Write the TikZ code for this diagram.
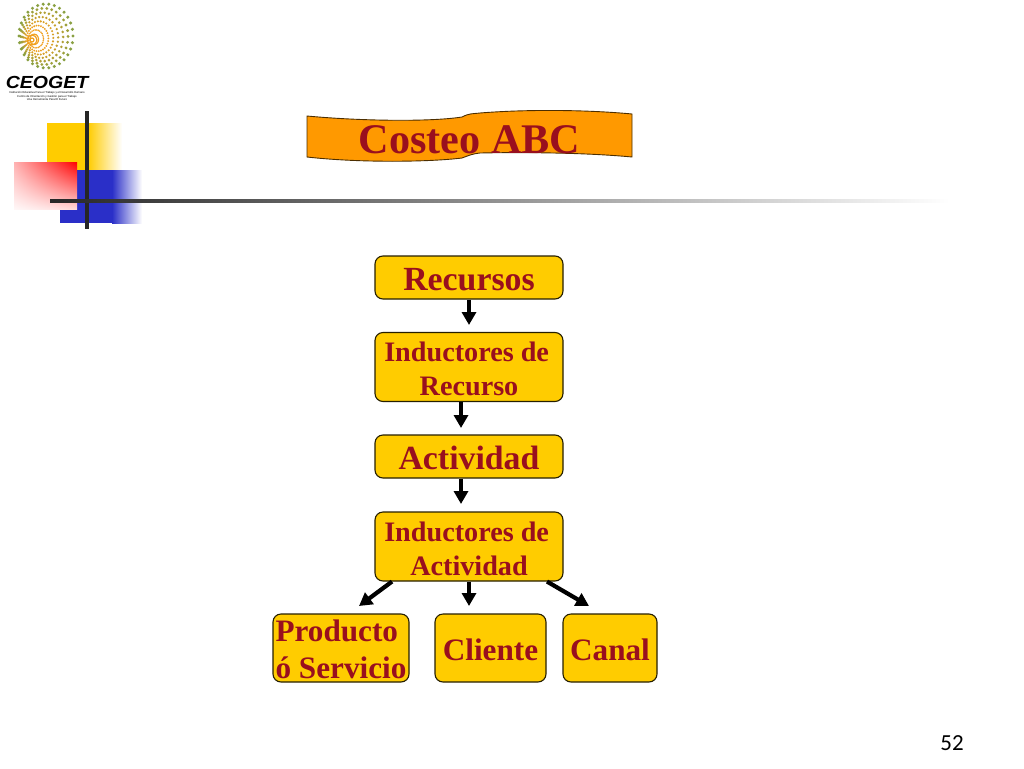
\documentclass[tikz,border=0pt]{standalone}
\usepackage{fontspec}
\setmainfont{Liberation Serif}
\newfontfamily\numfont{Carlito}
\newfontfamily\logofont{Liberation Sans}
\usetikzlibrary{arrows.meta,positioning,calc,shapes,shadings}
\definecolor{boxyellow}{HTML}{FFCC00}
\definecolor{boxorange}{HTML}{FF9900}
\definecolor{wine}{HTML}{990F1E}
\definecolor{deepblue}{HTML}{2A2FC8}
\definecolor{logogreen}{HTML}{6FA04A}
\definecolor{logoorange}{HTML}{F0A020}
\tikzset{
  flowbox/.style={rectangle, rounded corners=8pt, draw=black!85!boxyellow, line width=1.1pt, fill=boxyellow, text=wine, align=center, inner sep=0pt},
  bigtext/.style={font=\bfseries\fontsize{33.8}{37}\selectfont, execute at begin node={\rule{0pt}{27pt}}},
  lowtext/.style={font=\bfseries\fontsize{31.2}{37}\selectfont, execute at begin node={\rule{0pt}{25pt}}},
  lowpair/.style={font=\bfseries\fontsize{31.2}{37}\selectfont, execute at begin node={\rule{0pt}{62pt}}},
  smalltext/.style={font=\bfseries\fontsize{28.2}{34}\selectfont, execute at begin node={\rule{0pt}{57.5pt}}},
  flowarrow/.style={-{Triangle[length=13pt,width=14pt]}, line width=4.2pt, black},
}
\begin{document}
\begin{tikzpicture}[x=1pt,y=-1pt]
  \useasboundingbox (0,0) rectangle (1024,768);

  % Logo dots
  \foreach \a in {0,12,...,348}{
    \foreach \t in {16,28,...,100}{
      \pgfmathsetmacro{\dotx}{32+\t/100*(46+27*cos(\a)-32)}
      \pgfmathsetmacro{\doty}{40+\t/100*(36+32*sin(\a)-40)}
      \pgfmathsetmacro{\mixval}{min(100,150-1.3*\t)}
      \fill[logoorange!\mixval!logogreen] (\dotx,\doty) circle ({0.6+\t/100*1.1});
    }
  }
  \foreach \r in {2,5}{
    \draw[logoorange, line width=1.2pt] (32,40) circle (\r);
  }
  \node[font=\logofont\bfseries\itshape, inner sep=0pt, xscale=1.95, yscale=1.75] (logoname) at (47,82) {CEOGET};
  \node[font=\logofont, inner sep=0pt, scale=0.28, align=center] (logotext) at (47,96) {Institución Educativa Para el Trabajo y el Desarrollo Humano\\Centro de Orientación y Gestión para el Trabajo\\Una Herramienta Para El Futuro};

  % Slide decoration
  \shade[left color=boxyellow, right color=white] (88,123) rectangle (122,170);
  \fill[boxyellow] (47,123) rectangle (88.5,170);
  \shade[left color=deepblue, right color=white] (112,170) rectangle (142,223);
  \fill[deepblue] (60,170) rectangle (112.5,223);
  \shade[lower left=red!3, upper right=red, lower right=red!15, upper left=red!30] (14,162) rectangle (77,209);
  \fill[black!85] (85.2,111) rectangle (88.8,229);
  \shade[left color=black!85, right color=white] (50,199.2) rectangle (950,202.8);

  % Title banner
  \draw[draw=black!70!boxorange, line width=0.9pt, fill=boxorange]
    (307,116) .. controls (360,121) and (430,122) .. (462,117)
    .. controls (470,113) and (472,114) .. (480,113)
    .. controls (530,109) and (590,110) .. (632,114) -- (632,157)
    .. controls (590,153) and (530,152) .. (480,153)
    .. controls (472,154) and (470,155) .. (462,158)
    .. controls (430,162) and (360,163) .. (307,157) -- cycle;
  \node[text=wine, font=\bfseries\fontsize{42.2}{42}\selectfont] (title) at (469.5,140) {Costeo ABC};

  % Flow boxes
  \node[flowbox, bigtext, minimum width=188pt, minimum height=43pt] (recursos) at (469,277.5) {Recursos};
  \node[flowbox, smalltext, minimum width=188pt, minimum height=69pt] (indrec) at (469,367) {Inductores de\,\\Recurso};
  \node[flowbox, bigtext, minimum width=188pt, minimum height=43pt] (actividad) at (469,456.5) {Actividad};
  \node[flowbox, smalltext, minimum width=188pt, minimum height=69pt] (indact) at (469,546.5) {Inductores de\,\\Actividad};
  \node[flowbox, lowpair, align=left, minimum width=136pt, minimum height=68pt] (producto) at (341,648) {Producto\\ó Servicio};
  \node[flowbox, lowtext, minimum width=111pt, minimum height=68pt] (cliente) at (490.5,648) {Cliente};
  \node[flowbox, lowtext, minimum width=94pt, minimum height=68pt] (canal) at (610,648) {Canal};

  % Arrows
  \coordinate (a1) at (469,325);
  \coordinate (a2) at (461,428);
  \coordinate (a3) at (461,504);
  \coordinate (a4) at (359,606);
  \coordinate (a5) at (469,606);
  \coordinate (a6) at (589,606);
  \draw[flowarrow] (recursos.south) -- (a1);
  \draw[flowarrow] (indrec.south -| a2) -- (a2);
  \draw[flowarrow] (actividad.south -| a3) -- (a3);
  \draw[flowarrow] ($(indact.south)+(-77,0)$) -- (a4);
  \draw[flowarrow] (indact.south) -- (a5);
  \draw[flowarrow] ($(indact.south)+(78,0)$) -- (a6);

  \node[font=\numfont\fontsize{23}{23}\selectfont] (pagenum) at (952,743) {52};
\end{tikzpicture}
\end{document}
